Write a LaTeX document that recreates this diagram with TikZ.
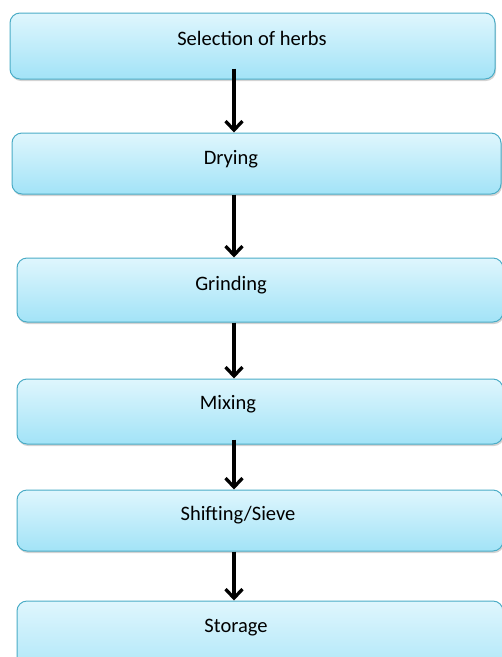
\documentclass[tikz,border=0pt]{standalone}
\usepackage{fontspec}
\setmainfont{Carlito}
\usetikzlibrary{arrows.meta,shadows}
\definecolor{boxedge}{HTML}{4BACC6}
\definecolor{boxtop}{HTML}{DFF6FD}
\definecolor{boxbot}{HTML}{A2E3F7}

\begin{document}
\begin{tikzpicture}[x=1pt,y=-1pt,font=\fontsize{20.5}{24}\selectfont,
   stage/.style={draw=boxedge,line width=1pt,rounded corners=10pt,top color=boxtop,bottom color=boxbot,
     drop shadow={opacity=0.35,shadow xshift=1pt,shadow yshift=-2pt},inner sep=0pt},
   flow/.style={line width=3.3pt,-{Straight Barb[length=9pt,width=17pt]}}]
  \useasboundingbox (0,0) rectangle (502,657);
  % process boxes (the lower ones run off the right and bottom edges)
  \node[stage,minimum width=485pt,minimum height=66pt] (sel) at (252.5,46) {};
  \node[stage,minimum width=489pt,minimum height=61pt] (dry) at (256.5,163.5) {};
  \node[stage,minimum width=486pt,minimum height=64pt] (grd) at (260,290) {};
  \node[stage,minimum width=486pt,minimum height=65pt] (mix) at (260,411.5) {};
  \node[stage,minimum width=486pt,minimum height=61pt] (sve) at (260,520.5) {};
  \node[stage,minimum width=486pt,minimum height=89pt] (sto) at (260,645.5) {};
  % labels sit above the middle of each box
  \node (selT) at (252,38) {Selection of herbs};
  \node (dryT) at (231,159) {Drying};
  \node (grdT) at (231,285) {Grinding};
  \node (mixT) at (228,404) {Mixing};
  \node (sveT) at (238,515) {Shifting/Sieve};
  \node (stoT) at (236,628) {Storage};
  % arrows all on one vertical line
  \coordinate (ax) at (234,0);
  \draw[flow] ([yshift=11pt]sel.south -| ax) -- (dry.north -| ax);
  \draw[flow] (dry.south -| ax) -- (grd.north -| ax);
  \draw[flow] (grd.south -| ax) -- (mix.north -| ax);
  \draw[flow] ([yshift=5pt]mix.south -| ax) -- (sve.north -| ax);
  \draw[flow] (sve.south -| ax) -- (sto.north -| ax);
\end{tikzpicture}
\end{document}
